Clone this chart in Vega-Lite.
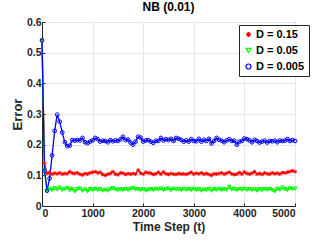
{
  "$schema": "https://vega.github.io/schema/vega-lite/v6.json",
  "autosize": "none",
  "width": 253,
  "height": 184,
  "padding": {"left": 42, "top": 22, "right": 32, "bottom": 39},
  "background": "white",
  "config": {
    "font": "Liberation Sans",
    "view": {"stroke": "#262626", "strokeWidth": 1},
    "axis": {"labelFont": "Liberation Sans", "titleFont": "Liberation Sans", "labelFontWeight": "bold", "titleFontWeight": "bold", "labelColor": "#262626", "titleColor": "#262626", "domainColor": "#262626", "tickColor": "#262626", "gridColor": "#e6e6e6", "labelFontSize": 10.5, "titleFontSize": 12, "labelOverlap": false}
  },
  "title": {"text": "NB (0.01)", "fontSize": 12, "fontWeight": "bold", "font": "Liberation Sans", "color": "#000000", "offset": 3},
  "data": {"values": [
    {"t":0,"r":0.54,"g":0.54,"b":0.54},
    {"t":50,"r":0.14,"g":0.115,"b":0.115},
    {"t":100,"r":0.106,"g":0.05,"b":0.05},
    {"t":150,"r":0.11,"g":0.056,"b":0.09},
    {"t":200,"r":0.104,"g":0.052,"b":0.165},
    {"t":250,"r":0.107,"g":0.058,"b":0.245},
    {"t":300,"r":0.105,"g":0.054,"b":0.298},
    {"t":350,"r":0.108,"g":0.06,"b":0.275},
    {"t":400,"r":0.104,"g":0.053,"b":0.24},
    {"t":450,"r":0.106,"g":0.056,"b":0.208},
    {"t":500,"r":0.105,"g":0.058,"b":0.195},
    {"t":550,"r":0.112,"g":0.052,"b":0.197},
    {"t":600,"r":0.107,"g":0.056,"b":0.215},
    {"t":650,"r":0.106,"g":0.048,"b":0.213},
    {"t":700,"r":0.108,"g":0.055,"b":0.215},
    {"t":750,"r":0.104,"g":0.057,"b":0.214},
    {"t":800,"r":0.101,"g":0.05,"b":0.222},
    {"t":850,"r":0.106,"g":0.054,"b":0.208},
    {"t":900,"r":0.104,"g":0.048,"b":0.205},
    {"t":950,"r":0.108,"g":0.055,"b":0.21},
    {"t":1000,"r":0.11,"g":0.053,"b":0.214},
    {"t":1050,"r":0.112,"g":0.055,"b":0.222},
    {"t":1100,"r":0.108,"g":0.052,"b":0.218},
    {"t":1150,"r":0.11,"g":0.055,"b":0.21},
    {"t":1200,"r":0.103,"g":0.05,"b":0.213},
    {"t":1250,"r":0.1,"g":0.053,"b":0.212},
    {"t":1300,"r":0.104,"g":0.05,"b":0.208},
    {"t":1350,"r":0.106,"g":0.055,"b":0.215},
    {"t":1400,"r":0.112,"g":0.058,"b":0.211},
    {"t":1450,"r":0.104,"g":0.054,"b":0.214},
    {"t":1500,"r":0.102,"g":0.052,"b":0.212},
    {"t":1550,"r":0.108,"g":0.055,"b":0.217},
    {"t":1600,"r":0.107,"g":0.052,"b":0.226},
    {"t":1650,"r":0.103,"g":0.055,"b":0.215},
    {"t":1700,"r":0.106,"g":0.053,"b":0.217},
    {"t":1750,"r":0.104,"g":0.056,"b":0.207},
    {"t":1800,"r":0.106,"g":0.058,"b":0.2},
    {"t":1850,"r":0.104,"g":0.054,"b":0.21},
    {"t":1900,"r":0.117,"g":0.055,"b":0.226},
    {"t":1950,"r":0.107,"g":0.052,"b":0.223},
    {"t":2000,"r":0.104,"g":0.055,"b":0.21},
    {"t":2050,"r":0.11,"g":0.05,"b":0.214},
    {"t":2100,"r":0.108,"g":0.053,"b":0.215},
    {"t":2150,"r":0.107,"g":0.055,"b":0.21},
    {"t":2200,"r":0.103,"g":0.052,"b":0.206},
    {"t":2250,"r":0.105,"g":0.056,"b":0.213},
    {"t":2300,"r":0.11,"g":0.054,"b":0.212},
    {"t":2350,"r":0.104,"g":0.057,"b":0.222},
    {"t":2400,"r":0.111,"g":0.052,"b":0.214},
    {"t":2450,"r":0.105,"g":0.055,"b":0.218},
    {"t":2500,"r":0.103,"g":0.057,"b":0.215},
    {"t":2550,"r":0.106,"g":0.052,"b":0.219},
    {"t":2600,"r":0.104,"g":0.056,"b":0.212},
    {"t":2650,"r":0.103,"g":0.054,"b":0.222},
    {"t":2700,"r":0.106,"g":0.055,"b":0.219},
    {"t":2750,"r":0.104,"g":0.052,"b":0.216},
    {"t":2800,"r":0.105,"g":0.056,"b":0.21},
    {"t":2850,"r":0.103,"g":0.053,"b":0.214},
    {"t":2900,"r":0.106,"g":0.055,"b":0.21},
    {"t":2950,"r":0.11,"g":0.052,"b":0.218},
    {"t":3000,"r":0.104,"g":0.056,"b":0.212},
    {"t":3050,"r":0.107,"g":0.052,"b":0.211},
    {"t":3100,"r":0.105,"g":0.055,"b":0.219},
    {"t":3150,"r":0.108,"g":0.05,"b":0.21},
    {"t":3200,"r":0.104,"g":0.054,"b":0.216},
    {"t":3250,"r":0.106,"g":0.052,"b":0.212},
    {"t":3300,"r":0.103,"g":0.056,"b":0.219},
    {"t":3350,"r":0.1,"g":0.05,"b":0.204},
    {"t":3400,"r":0.105,"g":0.055,"b":0.212},
    {"t":3450,"r":0.104,"g":0.053,"b":0.222},
    {"t":3500,"r":0.106,"g":0.056,"b":0.216},
    {"t":3550,"r":0.108,"g":0.052,"b":0.213},
    {"t":3600,"r":0.104,"g":0.055,"b":0.208},
    {"t":3650,"r":0.107,"g":0.053,"b":0.214},
    {"t":3700,"r":0.11,"g":0.062,"b":0.218},
    {"t":3750,"r":0.105,"g":0.054,"b":0.212},
    {"t":3800,"r":0.102,"g":0.056,"b":0.213},
    {"t":3850,"r":0.104,"g":0.052,"b":0.2},
    {"t":3900,"r":0.109,"g":0.055,"b":0.21},
    {"t":3950,"r":0.104,"g":0.053,"b":0.212},
    {"t":4000,"r":0.111,"g":0.056,"b":0.22},
    {"t":4050,"r":0.106,"g":0.053,"b":0.218},
    {"t":4100,"r":0.104,"g":0.055,"b":0.214},
    {"t":4150,"r":0.107,"g":0.052,"b":0.208},
    {"t":4200,"r":0.112,"g":0.055,"b":0.216},
    {"t":4250,"r":0.104,"g":0.05,"b":0.212},
    {"t":4300,"r":0.106,"g":0.055,"b":0.207},
    {"t":4350,"r":0.103,"g":0.052,"b":0.21},
    {"t":4400,"r":0.108,"g":0.056,"b":0.213},
    {"t":4450,"r":0.105,"g":0.053,"b":0.207},
    {"t":4500,"r":0.104,"g":0.055,"b":0.212},
    {"t":4550,"r":0.108,"g":0.052,"b":0.211},
    {"t":4600,"r":0.105,"g":0.048,"b":0.213},
    {"t":4650,"r":0.107,"g":0.056,"b":0.208},
    {"t":4700,"r":0.104,"g":0.053,"b":0.214},
    {"t":4750,"r":0.109,"g":0.06,"b":0.212},
    {"t":4800,"r":0.108,"g":0.055,"b":0.213},
    {"t":4850,"r":0.11,"g":0.052,"b":0.218},
    {"t":4900,"r":0.112,"g":0.058,"b":0.212},
    {"t":4950,"r":0.115,"g":0.055,"b":0.215},
    {"t":5000,"r":0.112,"g":0.057,"b":0.212}
  ]},
  "transform": [
    {"fold": ["r", "g", "b"], "as": ["key", "e"]},
    {"lookup": "key", "from": {"data": {"values": [
      {"key": "r", "series": "D = 0.15", "o": 1},
      {"key": "g", "series": "D = 0.05", "o": 2},
      {"key": "b", "series": "D = 0.005", "o": 3}
    ]}, "key": "key", "fields": ["series", "o"]}}
  ],
  "encoding": {
    "x": {"field": "t", "type": "quantitative", "scale": {"domain": [0, 5000], "nice": false}, "axis": {"title": "Time Step (t)", "values": [0, 1000, 2000, 3000, 4000, 5000], "format": "d", "tickSize": -3, "labelPadding": 5, "titlePadding": 3, "grid": true}},
    "y": {"field": "e", "type": "quantitative", "scale": {"domain": [0, 0.6], "nice": false}, "axis": {"title": "Error", "values": [0, 0.1, 0.2, 0.3, 0.4, 0.5, 0.6], "format": "~g", "tickSize": -3, "labelPadding": 4, "titlePadding": 2, "grid": true, "titleFontSize": 13}},
    "color": {"field": "series", "type": "nominal", "sort": ["D = 0.15", "D = 0.05", "D = 0.005"], "scale": {"domain": ["D = 0.15", "D = 0.05", "D = 0.005"], "range": ["#ff0000", "#00ff00", "#0000ff"]},
      "legend": {"title": null, "orient": "none", "legendX": 197, "legendY": 3, "fillColor": "white", "strokeColor": "#262626", "padding": 4, "labelFont": "Liberation Sans", "labelFontWeight": "bold", "labelFontSize": 11, "labelColor": "#000000", "symbolSize": 25, "rowPadding": 4, "labelOffset": 2, "symbolStrokeWidth": 1.2}}
  },
  "layer": [
    {"mark": {"type": "line", "strokeWidth": 1.3}, "encoding": {"order": {"field": "t", "type": "quantitative"}, "detail": {"field": "o"}}},
    {"mark": {"type": "point", "filled": false, "size": 14, "strokeWidth": 1, "opacity": 1},
     "encoding": {"shape": {"field": "series", "type": "nominal", "sort": ["D = 0.15", "D = 0.05", "D = 0.005"], "scale": {"domain": ["D = 0.15", "D = 0.05", "D = 0.005"], "range": ["M-1,0L1,0M0,-1L0,1M-0.7,-0.7L0.7,0.7M-0.7,0.7L0.7,-0.7", "triangle-down", "circle"]}}}}
  ]
}
